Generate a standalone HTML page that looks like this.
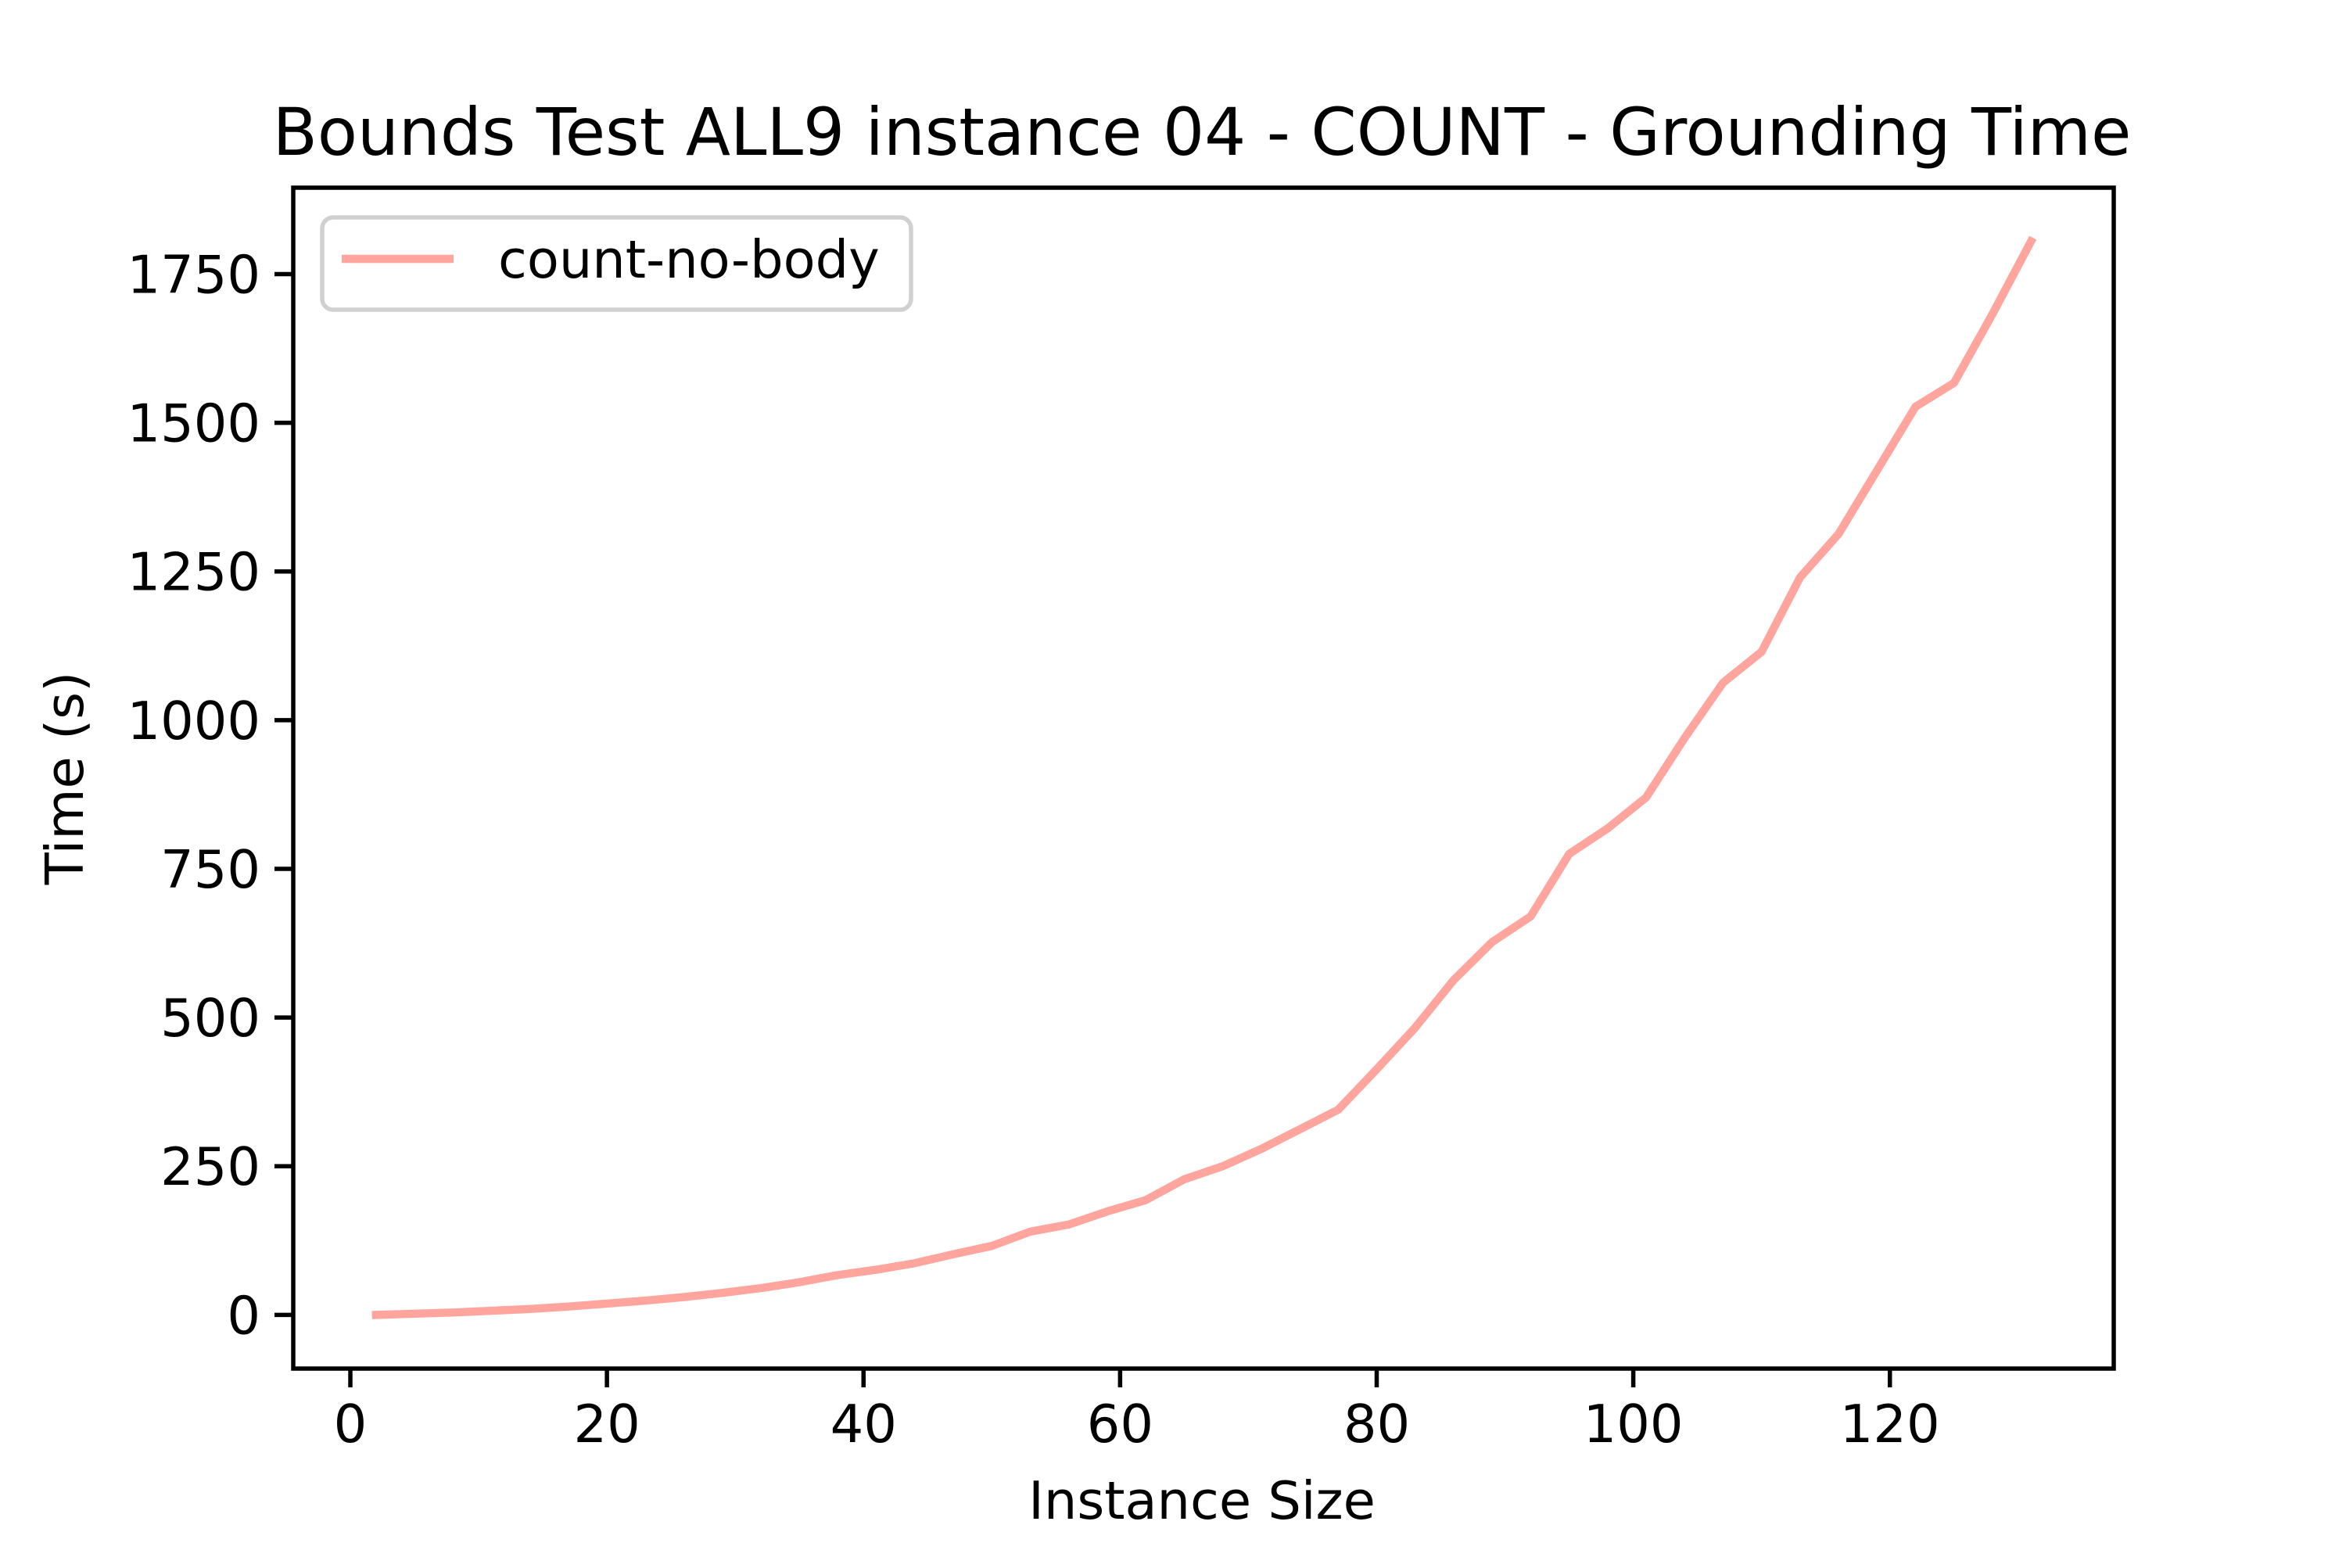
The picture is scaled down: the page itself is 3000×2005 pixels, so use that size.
<!DOCTYPE html>
<html><head><meta charset="utf-8"><style>
html,body{margin:0;padding:0;background:#fff;}
svg text{font-family:"DejaVu Sans","Liberation Sans",sans-serif;fill:#000;}
</style></head><body>
<svg id="chart" width="3000" height="2000" xmlns="http://www.w3.org/2000/svg">
<rect width="3000" height="2000" fill="#fff"/>
<text x="1537" y="198" font-size="83.5" text-anchor="middle">Bounds Test ALL9 instance 04 - COUNT - Grounding Time</text>
<g id="plot"></g>
<text x="1537" y="1942" font-size="67" text-anchor="middle">Instance Size</text>
<text transform="translate(106,995) rotate(-90)" font-size="67" text-anchor="middle">Time (s)</text>
</svg>
<script>
const xValues = [2,5,8,11,14,17,20,23,26,29,32,35,38,41,44,47,50,53,56,59,62,65,68,71,74,77,80,83,86,89,92,95,98,101,104,107,110,113,116,119,122,125,128,131];
const yValues = [0,2,4,7,10,14,19,24,30,37,45,55,67,76,87,102,116,140,152,174,193,228,250,279,312,345,413,483,563,627,670,775,818,870,970,1063,1115,1240,1313,1420,1527,1567,1683,1805];
const xTicks = [0,20,40,60,80,100,120];
const yTicks = [0,250,500,750,1000,1250,1500,1750];
const seriesName = "count-no-body";

const L=375,R=2703,T=240,B=1750;
const xmin=Math.min(...xValues),xmax=Math.max(...xValues),xm=(xmax-xmin)*0.05;
const ymin=Math.min(...yValues),ymax=Math.max(...yValues),ym=(ymax-ymin)*0.05;
const X=v=>L+(v-(xmin-xm))/((xmax+xm)-(xmin-xm))*(R-L);
const Y=v=>B-(v-(ymin-ym))/((ymax+ym)-(ymin-ym))*(B-T);
const NS="http://www.w3.org/2000/svg";
const g=document.getElementById('plot');
function mk(t,a){const e=document.createElementNS(NS,t);for(const k in a)e.setAttribute(k,a[k]);g.appendChild(e);return e;}

xTicks.forEach(t=>{
  const l=mk('line',{x1:X(t),x2:X(t),y1:B,y2:B+24,stroke:'#000','stroke-width':5.5});
  
  
  const s=mk('text',{x:X(t),y:B+94,'font-size':67,'text-anchor':'middle'});
  s.textContent=t;
  
  
});
yTicks.forEach(t=>{
  const l=mk('line',{x1:L-24,x2:L,y1:Y(t),y2:Y(t),stroke:'#000','stroke-width':5.5});
  
  
  const s=mk('text',{x:L-42,y:Y(t)+24,'font-size':67,'text-anchor':'end'});
  s.textContent=t;
  
  
});
const line=mk('polyline',{points:xValues.map((x,i)=>X(x)+','+Y(yValues[i])).join(' '),fill:'none',stroke:'#ffa59e','stroke-width':10.4,'stroke-linejoin':'round','stroke-linecap':'square'});


const frame=mk('rect',{x:L,y:T,width:R-L,height:B-T,fill:'none',stroke:'#000','stroke-width':5.5});


const lb=mk('rect',{x:412,y:278,width:753,height:118,rx:14,fill:'#fff','fill-opacity':0.8,stroke:'#d0d0d0','stroke-width':5.5});


const ll=mk('line',{x1:437,x2:580,y1:331,y2:331,stroke:'#ffa59e','stroke-width':10.4});


const lt=mk('text',{x:637,y:355,'font-size':67});
lt.textContent=seriesName;


</script>
</body></html>
